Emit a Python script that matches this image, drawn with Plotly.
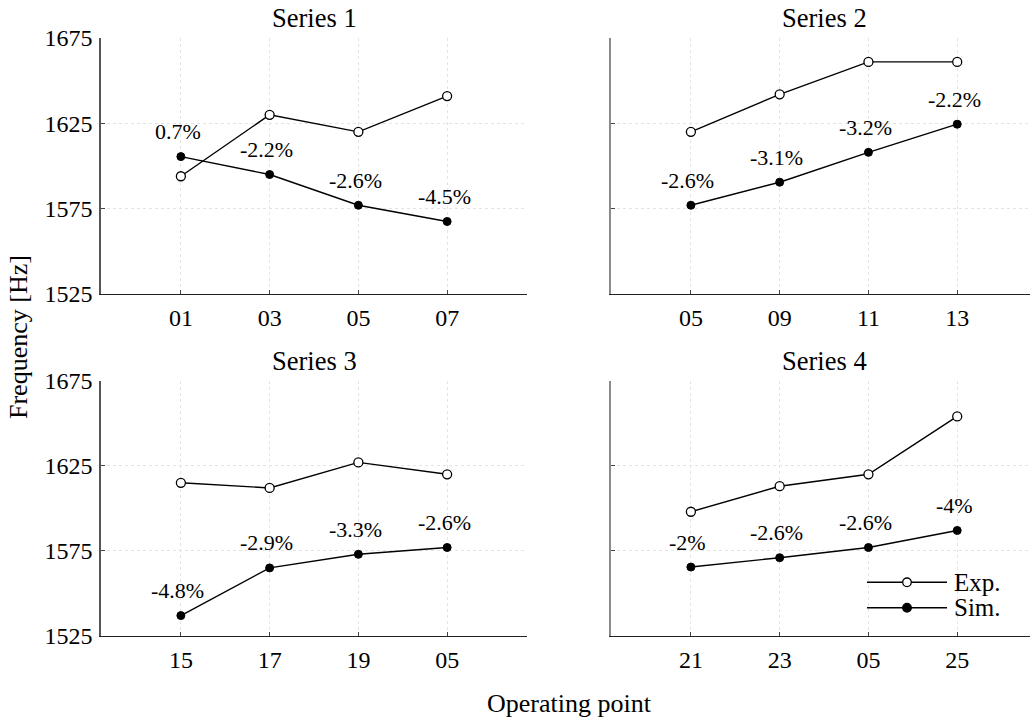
import plotly.graph_objects as go

# ---- data ----
titles = ["Series 1", "Series 2", "Series 3", "Series 4"]
cats1 = ["01", "03", "05", "07"]
cats2 = ["05", "09", "11", "13"]
cats3 = ["15", "17", "19", "05"]
cats4 = ["21", "23", "05", "25"]
exp1 = [1594, 1630, 1620, 1641]
exp2 = [1620, 1642, 1661, 1661]
exp3 = [1615, 1612, 1627, 1620]
exp4 = [1598, 1613, 1620, 1654]
sim1 = [1605.5, 1595, 1577, 1567.5]
sim2 = [1577, 1590.5, 1608, 1624.5]
sim3 = [1537, 1565, 1573, 1577]
sim4 = [1565.5, 1571, 1577, 1587]
pct1 = ["0.7%", "-2.2%", "-2.6%", "-4.5%"]
pct2 = ["-2.6%", "-3.1%", "-3.2%", "-2.2%"]
pct3 = ["-4.8%", "-2.9%", "-3.3%", "-2.6%"]
pct4 = ["-2%", "-2.6%", "-2.6%", "-4%"]
y_ticks = [1525, 1575, 1625, 1675]

cats = [cats1, cats2, cats3, cats4]
exps = [exp1, exp2, exp3, exp4]
sims = [sim1, sim2, sim3, sim4]
pcts = [pct1, pct2, pct3, pct4]

FONT = "Liberation Serif, Times New Roman, serif"
W, H = 1030, 718
L, R, T, B = 101, 0, 38, 82
pw, ph = W - L - R, H - T - B

def px_x(x):
    return (x - L) / pw

def px_y(y):
    return (H - B - y) / ph

xdom = [[0, px_x(527)], [px_x(611), 1.0], [0, px_x(527)], [px_x(611), 1.0]]
ydom = [[px_y(294), 1.0], [px_y(294), 1.0], [0, px_y(380.7)], [0, px_y(380.7)]]
xrng = [[-0.9, 3.9], [-0.9, 3.82], [-0.9, 3.9], [-0.9, 3.82]]
title_x = [px_x(314), px_x(824), px_x(314), px_x(824)]

fig = go.Figure()
annotations = []
for i in range(4):
    sfx = "" if i == 0 else str(i + 1)
    xa, ya = "x" + sfx, "y" + sfx
    idx = list(range(len(cats[i])))
    fig.add_trace(go.Scatter(
        x=idx, y=exps[i], xaxis=xa, yaxis=ya, mode="lines+markers",
        line=dict(color="black", width=1.4),
        marker=dict(symbol="circle", size=9, color="white",
                    line=dict(color="black", width=1.3)),
        name="Exp.", showlegend=False))
    fig.add_trace(go.Scatter(
        x=idx, y=sims[i], xaxis=xa, yaxis=ya, mode="lines+markers",
        line=dict(color="black", width=1.4),
        marker=dict(symbol="circle", size=8, color="black",
                    line=dict(color="black", width=1)),
        name="Sim.", showlegend=False))
    for j, (v, t) in enumerate(zip(sims[i], pcts[i])):
        annotations.append(dict(x=j, y=v, xref=xa, yref=ya, text=t,
                                showarrow=False, yshift=25, xshift=-3,
                                font=dict(family=FONT, size=22, color="black")))
    annotations.append(dict(x=title_x[i], y=ydom[i][1], xref="paper", yref="paper",
                            text=titles[i], showarrow=False,
                            xanchor="center", yanchor="bottom", yshift=3,
                            font=dict(family=FONT, size=26.5, color="black")))
    left = i in (0, 2)
    fig.layout["xaxis" + sfx] = dict(
        domain=xdom[i], anchor=ya, range=xrng[i],
        tickmode="array", tickvals=idx, ticktext=cats[i],
        showline=True, linecolor="#222222", linewidth=1.3,
        ticks="inside", ticklen=4, tickcolor="#444444",
        ticklabelstandoff=2,
        showgrid=True, gridcolor="#e4e4e4", griddash="dot", gridwidth=1,
        tickfont=dict(family=FONT, size=24, color="black"),
        zeroline=False, fixedrange=True)
    fig.layout["yaxis" + sfx] = dict(
        domain=ydom[i], anchor=xa, range=[1525, 1675], tickvals=y_ticks,
        showticklabels=left,
        showline=True, linecolor="#555555" if left else "#8a8a8a", linewidth=1.5,
        ticks="inside", ticklen=4, tickcolor="#444444",
        ticklabelstandoff=2,
        showgrid=True, gridcolor="#e4e4e4", griddash="dot", gridwidth=1,
        tickfont=dict(family=FONT, size=24, color="black"),
        zeroline=False, fixedrange=True)

# global axis titles
annotations.append(dict(x=px_x(18), y=px_y(337), xref="paper", yref="paper",
                        text="Frequency [Hz]", showarrow=False, textangle=-90,
                        xanchor="center", yanchor="middle",
                        font=dict(family=FONT, size=26, color="black")))
annotations.append(dict(x=px_x(569), y=px_y(703), xref="paper", yref="paper",
                        text="Operating point", showarrow=False,
                        xanchor="center", yanchor="middle",
                        font=dict(family=FONT, size=26, color="black")))

# legend (drawn in Series 4 panel)
shapes = []
leg_rows = [("Exp.", 582.3, "white"), ("Sim.", 607.7, "black")]
for name, yy, fill in leg_rows:
    shapes.append(dict(type="line", xref="paper", yref="paper",
                       x0=px_x(867), x1=px_x(947), y0=px_y(yy), y1=px_y(yy),
                       line=dict(color="black", width=1.4)))
    r = 4.3
    shapes.append(dict(type="circle", xref="paper", yref="paper",
                       x0=px_x(907 - r), x1=px_x(907 + r),
                       y0=px_y(yy + r), y1=px_y(yy - r),
                       fillcolor=fill, line=dict(color="black", width=1.3)))
    annotations.append(dict(x=px_x(952), y=px_y(yy), xref="paper", yref="paper",
                            text=name, showarrow=False, xanchor="left",
                            yanchor="middle",
                            font=dict(family=FONT, size=25, color="black")))

fig.update_layout(
    width=W, height=H,
    margin=dict(l=L, r=R, t=T, b=B),
    paper_bgcolor="white", plot_bgcolor="white",
    showlegend=False,
    annotations=annotations, shapes=shapes,
    font=dict(family=FONT, color="black"),
)

fig.write_html("out.html")
